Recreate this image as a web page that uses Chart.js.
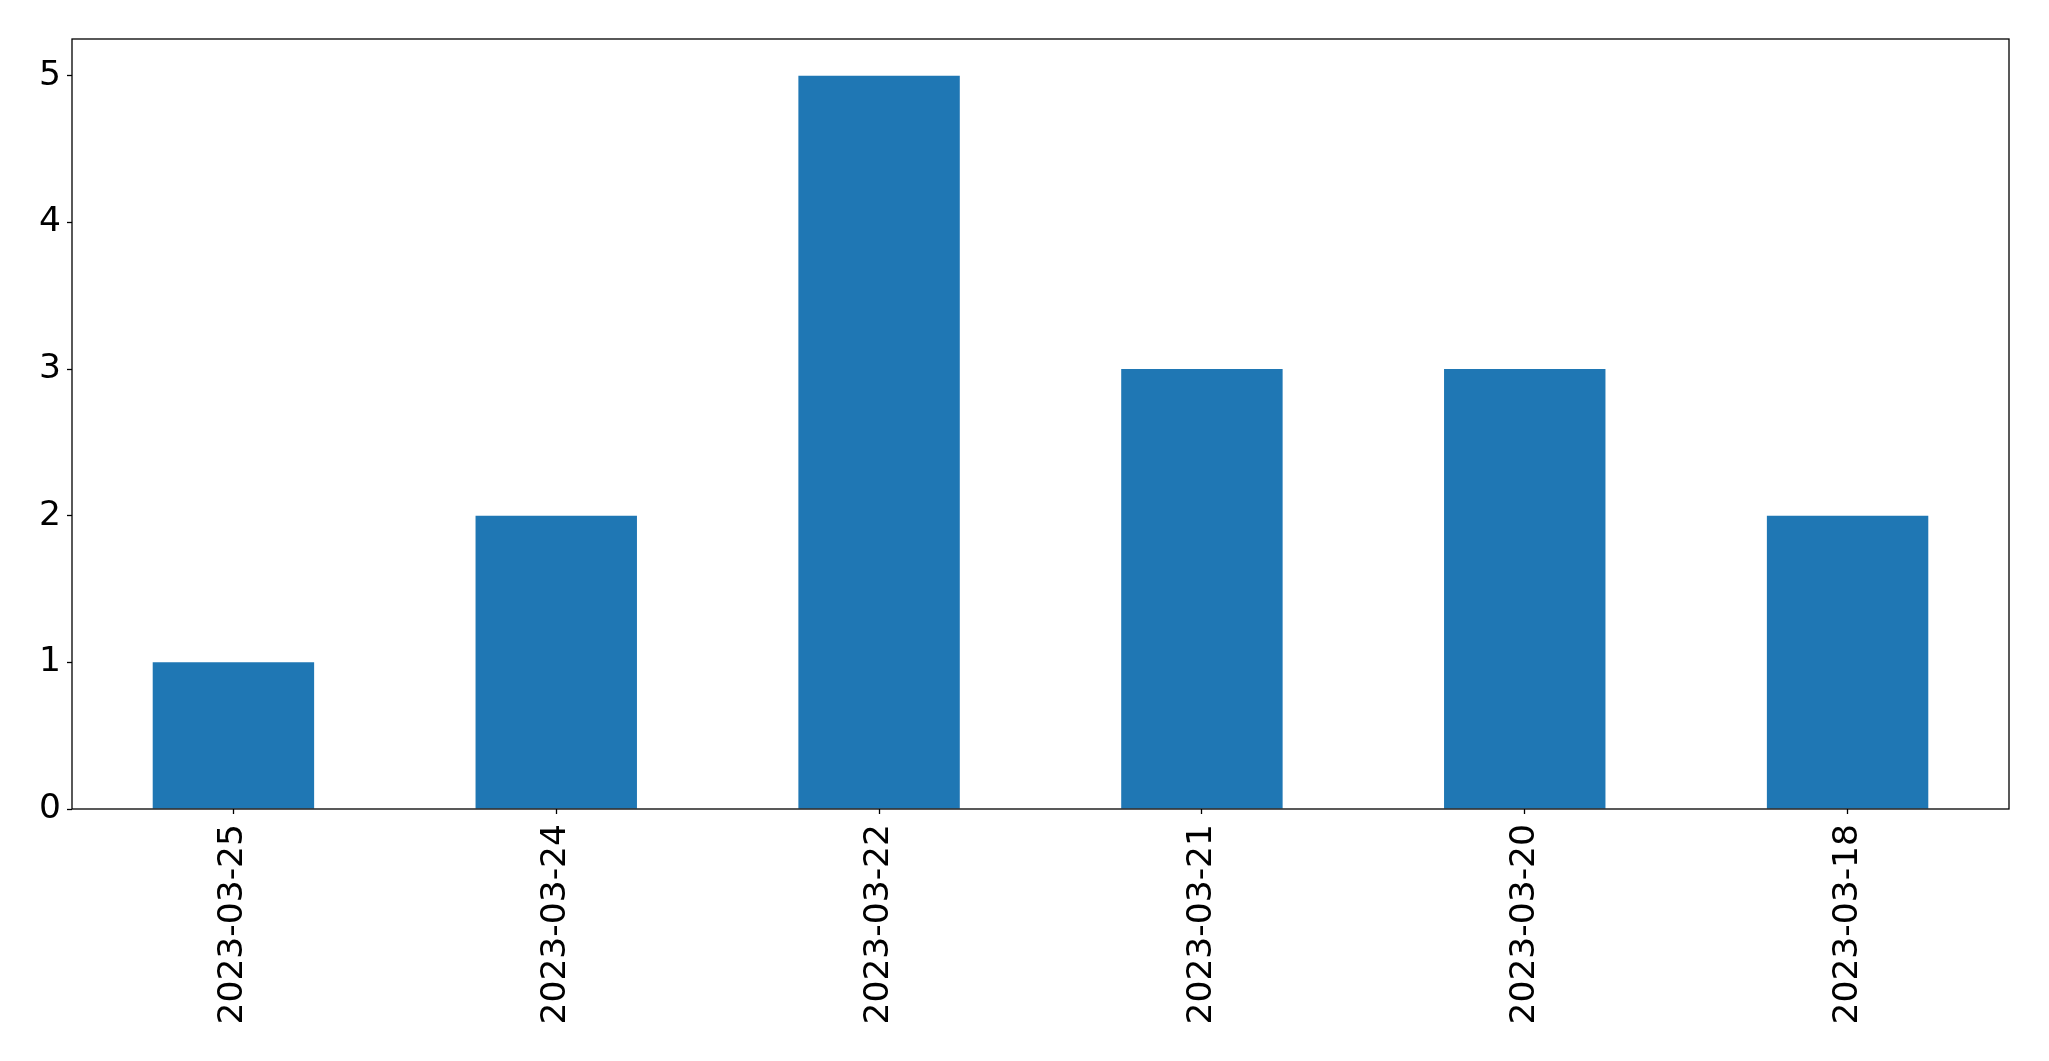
<!DOCTYPE html>
<html>
<head>
<meta charset="utf-8">
<script src="https://cdn.jsdelivr.net/npm/chart.js@4.4.0/dist/chart.umd.min.js"></script>
<style>
  html, body { margin: 0; padding: 0; background: #fff; }
  #wrap { width: 2049px; height: 1061px; }
</style>
</head>
<body>
<div id="wrap"><canvas id="chart" width="2049" height="1061"></canvas></div>
<script>
// Data
const dates = ["2023-03-25", "2023-03-24", "2023-03-22", "2023-03-21", "2023-03-20", "2023-03-18"];
const counts = [1, 2, 5, 3, 3, 2];
const yTicks = [0, 1, 2, 3, 4, 5];

// Draw the box round the plot area, like matplotlib's spines
const frame = {
  id: "frame",
  afterDraw(chart) {
    const { ctx, chartArea: a } = chart;
    ctx.save();
    ctx.strokeStyle = "#000";
    ctx.lineWidth = 1.3;
    ctx.strokeRect(a.left, a.top, a.right - a.left, a.bottom - a.top);
    ctx.restore();
  },
};

const font = { family: "'DejaVu Sans', sans-serif", size: 34.5 };

new Chart(document.getElementById("chart"), {
  type: "bar",
  data: {
    labels: dates,
    datasets: [{
      data: counts,
      backgroundColor: "#1f77b4",
      borderWidth: 0,
      categoryPercentage: 1.0,
      barPercentage: 0.5,
    }],
  },
  options: {
    responsive: false,
    animation: false,
    devicePixelRatio: 1,
    layout: { padding: { top: 39, right: 40, left: 0, bottom: 0 } },
    plugins: { legend: { display: false }, tooltip: { enabled: false } },
    scales: {
      x: {
        grid: { display: true, offset: false, drawOnChartArea: false, tickLength: 5, tickColor: "#000", tickWidth: 1.3 },
        border: { display: false },
        ticks: { color: "#000", font: font, minRotation: 90, maxRotation: 90, padding: 10 },
        afterFit(axis) { axis.height = 252; },
      },
      y: {
        min: 0,
        max: 5.25,
        grid: { display: true, drawOnChartArea: false, tickLength: 5, tickColor: "#000", tickWidth: 1.3 },
        border: { display: false },
        ticks: { color: "#000", font: font, stepSize: 1, padding: 6 },
        afterBuildTicks(axis) {
          axis.ticks = yTicks.map((v) => ({ value: v }));
        },
        afterFit(axis) { axis.width = 72; },
      },
    },
  },
  plugins: [frame],
});
</script>
</body>
</html>
